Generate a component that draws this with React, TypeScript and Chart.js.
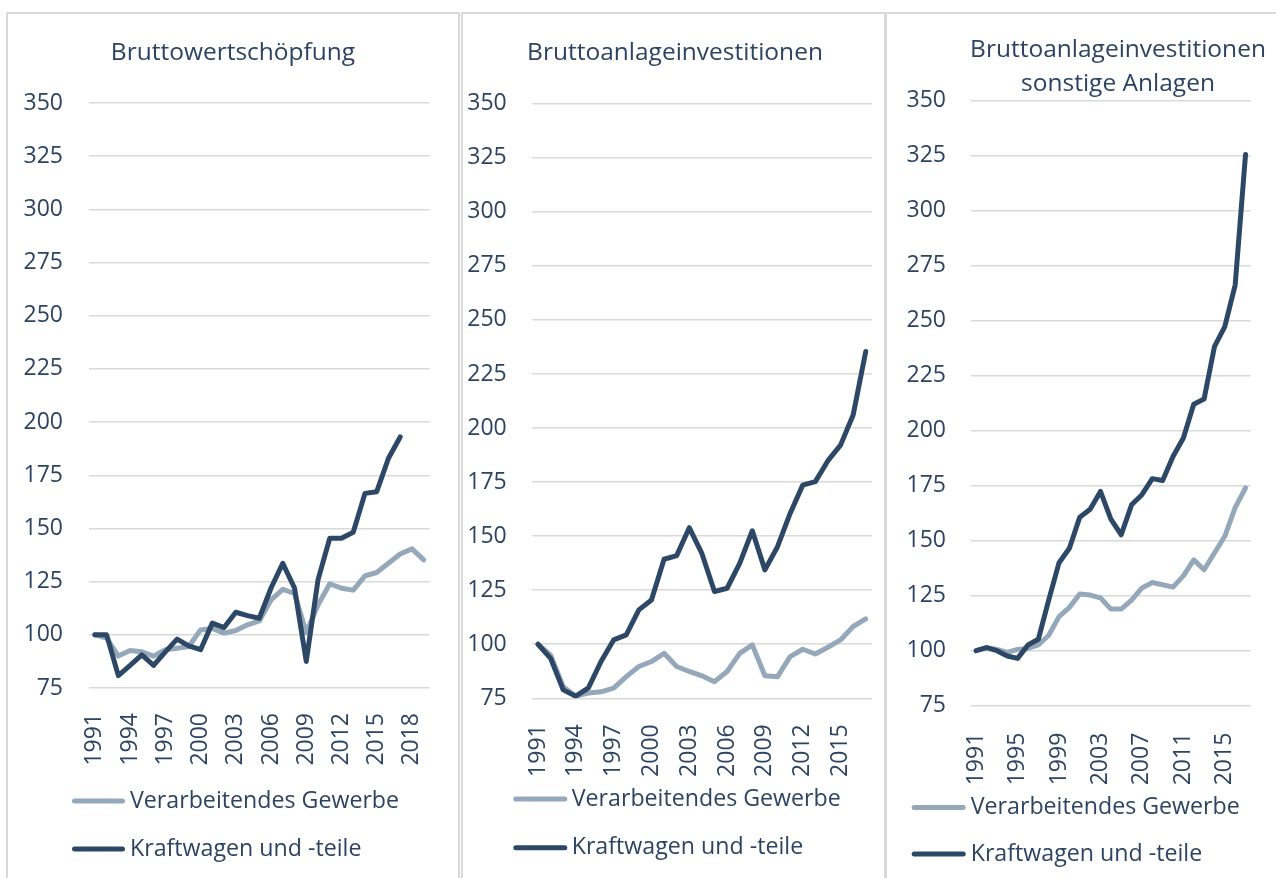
import React, { useEffect, useRef } from 'react';
import { Chart, registerables } from 'chart.js';

Chart.register(...registerables);

// ---------- data ----------
const seriesLabels = ['Verarbeitendes Gewerbe', 'Kraftwagen und -teile'];

const bwsYears = ['1991','1992','1993','1994','1995','1996','1997','1998','1999','2000','2001','2002','2003','2004','2005','2006','2007','2008','2009','2010','2011','2012','2013','2014','2015','2016','2017','2018','2019'];
const bwsVerarbeitend = [100, 98.5, 90, 92.6, 92, 90, 93, 93.7, 94.5, 102.3, 103, 100.8, 102, 104.7, 106.5, 116.4, 121.4, 119.5, 101, 114, 124, 121.9, 121, 127.7, 129.3, 133.6, 138, 140.4, 135.2];
const bwsKraftwagen = [100, 100, 80.8, 85.6, 90.6, 85.6, 92, 98, 94.8, 93, 105.5, 103.4, 110.6, 109, 107.8, 122, 133.6, 122, 87.5, 125.8, 145.4, 145.4, 148.2, 166.5, 167.3, 183, 193];

const baiYears = ['1991','1992','1993','1994','1995','1996','1997','1998','1999','2000','2001','2002','2003','2004','2005','2006','2007','2008','2009','2010','2011','2012','2013','2014','2015','2016','2017'];
const baiVerarbeitend = [100, 95, 80.4, 76, 77.4, 78, 79.7, 85, 89.7, 92, 95.8, 89.7, 87.4, 85.4, 82.7, 87.4, 95.8, 99.7, 85.4, 85, 94.3, 97.7, 95.5, 98.6, 102, 108.2, 111.7];
const baiKraftwagen = [100, 93.5, 78.9, 76, 79.8, 92, 102, 104.3, 115.9, 120.5, 139.3, 141, 153.9, 142, 124.4, 125.9, 137.4, 152.5, 134.4, 145.1, 160.5, 173.6, 175.2, 184.9, 192.1, 206, 235.4];

const bsaYears = ['1991','1992','1993','1994','1995','1996','1997','1998','1999','2000','2001','2002','2003','2004','2005','2006','2007','2008','2009','2010','2011','2012','2013','2014','2015','2016','2017'];
const bsaVerarbeitend = [100, 101.4, 100.6, 99.2, 100.6, 101, 102.6, 107, 115.5, 119.7, 125.8, 125.3, 124, 118.9, 118.9, 123, 128.5, 131, 130, 128.9, 134, 141.3, 136.8, 144.4, 152, 165, 174];
const bsaKraftwagen = [100, 101.4, 100, 97.6, 96.5, 102.6, 105.2, 123, 140, 146.6, 160.7, 164.3, 172.4, 159.8, 152.7, 166.3, 170.9, 178.2, 177.4, 188.3, 196.7, 212, 214.4, 238.2, 247.3, 266.2, 325.5];

const yMin = 75;
const yMax = 350;
const yStep = 25;

// ---------- styles ----------
const FONT = '"Open Sans", "Noto Sans", sans-serif';
const TEXT = '#2C4461';
const DARK = '#2D4866';
const LIGHT = '#94A8BA';
const GRID = '#D9D9D9';
const TICK_SIZE = 23;
const TITLE_SIZE = 24.5;
const LEGEND_SIZE = 23.2;

const legendPlugin = {
  id: 'panelLegend',
  afterDraw(chart: any, _args: any, opts: any) {
    const ctx = chart.ctx;
    ctx.save();
    ctx.font = `${opts.fontSize}px ${FONT}`;
    ctx.textBaseline = 'middle';
    ctx.textAlign = 'left';
    chart.data.datasets.forEach((ds: any, i: number) => {
      const y = opts.y + i * opts.rowGap;
      ctx.beginPath();
      ctx.strokeStyle = ds.borderColor;
      ctx.lineWidth = ds.borderWidth;
      ctx.lineCap = 'round';
      ctx.moveTo(opts.x, y);
      ctx.lineTo(opts.x + opts.lineLen, y);
      ctx.stroke();
      ctx.fillStyle = TEXT;
      ctx.fillText(ds.label, opts.textX, y);
    });
    ctx.restore();
  },
};

type PanelCfg = {
  title: string | string[];
  years: string[];
  verarbeitend: number[];
  kraftwagen: number[];
  labelStep: number;
  left: number;
  top: number;
  w: number;
  h: number;
  yW: number;
  rW: number;
  xH: number;
  padBottom: number;
  titleLineHeight: number;
  titlePadTop: number;
  titlePadBottom: number;
  yPad: number;
  xPad: number;
  legend: { x: number; lineLen: number; textX: number; y: number; rowGap: number };
};

function Panel({ cfg }: { cfg: PanelCfg }) {
  const ref = useRef<HTMLCanvasElement>(null);
  useEffect(() => {
    const chart = new Chart(ref.current as HTMLCanvasElement, {
      type: 'line',
      data: {
        labels: cfg.years,
        datasets: [
          {
            label: seriesLabels[0],
            data: cfg.verarbeitend,
            borderColor: LIGHT,
            backgroundColor: LIGHT,
            borderWidth: 5,
            pointRadius: 0,
            tension: 0,
            borderJoinStyle: 'round',
            borderCapStyle: 'round',
            order: 1,
          },
          {
            label: seriesLabels[1],
            data: cfg.kraftwagen,
            borderColor: DARK,
            backgroundColor: DARK,
            borderWidth: 5,
            pointRadius: 0,
            tension: 0,
            borderJoinStyle: 'round',
            borderCapStyle: 'round',
            order: 0,
          },
        ],
      },
      options: {
        animation: false,
        responsive: false,
        devicePixelRatio: 1,
        layout: { padding: { left: 0, right: 0, top: 0, bottom: cfg.padBottom } },
        plugins: {
          legend: { display: false },
          tooltip: { enabled: false },
          title: {
            display: true,
            text: cfg.title,
            color: TEXT,
            font: { family: FONT, size: TITLE_SIZE, weight: 'normal', lineHeight: cfg.titleLineHeight },
            padding: { top: cfg.titlePadTop, bottom: cfg.titlePadBottom },
          },
          panelLegend: { ...cfg.legend, fontSize: LEGEND_SIZE },
        } as any,
        scales: {
          x: {
            type: 'category',
            offset: true,
            grid: { display: false },
            border: { display: false },
            ticks: {
              autoSkip: false,
              minRotation: 90,
              maxRotation: 90,
              padding: cfg.xPad,
              color: TEXT,
              font: { family: FONT, size: TICK_SIZE },
              callback: function (this: any, _v: any, i: number) {
                return i % cfg.labelStep === 0 ? cfg.years[i] : null;
              },
            },
            afterFit: (s: any) => { s.height = cfg.xH; },
          },
          y: {
            type: 'linear',
            min: yMin,
            max: yMax,
            ticks: { stepSize: yStep, padding: cfg.yPad, color: TEXT, font: { family: FONT, size: TICK_SIZE } },
            grid: { color: GRID, lineWidth: 1.5, drawTicks: false },
            border: { display: false },
            afterFit: (s: any) => { s.width = cfg.yW; },
          },
          yRight: {
            type: 'linear',
            position: 'right',
            display: true,
            grid: { display: false, drawTicks: false },
            border: { display: false },
            ticks: { display: false },
            afterFit: (s: any) => { s.width = cfg.rW; },
          },
        },
      } as any,
      plugins: [legendPlugin],
    });
    return () => chart.destroy();
  }, []);
  return (
    <canvas
      ref={ref}
      width={cfg.w}
      height={cfg.h}
      style={{ position: 'absolute', left: cfg.left, top: cfg.top, width: cfg.w, height: cfg.h, display: 'block' }}
    />
  );
}

const panels: PanelCfg[] = [
  {
    title: 'Bruttowertschöpfung',
    years: bwsYears,
    verarbeitend: bwsVerarbeitend,
    kraftwagen: bwsKraftwagen,
    labelStep: 3,
    left: 8, top: 14, w: 450, h: 864,
    yW: 81, rW: 28, xH: 80, padBottom: 110,
    titleLineHeight: 1.2, titlePadTop: 24.0, titlePadBottom: 35.6,
    yPad: 26, xPad: 17,
    legend: { x: 66.5, lineLen: 48, textX: 122, y: 787, rowGap: 48 },
  },
  {
    title: 'Bruttoanlageinvestitionen',
    years: baiYears,
    verarbeitend: baiVerarbeitend,
    kraftwagen: baiKraftwagen,
    labelStep: 3,
    left: 463, top: 14, w: 424, h: 864,
    yW: 68.7, rW: 9.3, xH: 80, padBottom: 99.7,
    titleLineHeight: 1.2, titlePadTop: 24.5, titlePadBottom: 35.8,
    yPad: 25, xPad: 18,
    legend: { x: 52.8, lineLen: 49, textX: 108.7, y: 785, rowGap: 48.7 },
  },
  {
    title: ['Bruttoanlageinvestitionen', 'sonstige Anlagen'],
    years: bsaYears,
    verarbeitend: bsaVerarbeitend,
    kraftwagen: bsaKraftwagen,
    labelStep: 4,
    left: 887, top: 14, w: 462, h: 864,
    yW: 84, rW: 98.3, xH: 80, padBottom: 92.3,
    titleLineHeight: 1.371, titlePadTop: 19.2, titlePadBottom: 0.3,
    yPad: 25, xPad: 19,
    legend: { x: 27.2, lineLen: 49, textX: 83.7, y: 793.5, rowGap: 46.6 },
  },
];

const borders = [
  { left: 6, width: 454 },
  { left: 461, width: 425 },
  { left: 885, width: 500 },
];

export default function App() {
  return (
    <div style={{ position: 'fixed', left: 0, top: 0, width: '100vw', height: '100vh', overflow: 'hidden', background: '#fff' }}>
      {borders.map((b, i) => (
        <div
          key={'b' + i}
          style={{
            position: 'absolute',
            left: b.left,
            top: 12,
            width: b.width,
            height: 900,
            boxSizing: 'border-box',
            border: '2px solid ' + GRID,
          }}
        />
      ))}
      {panels.map((p, i) => (
        <Panel key={i} cfg={p} />
      ))}
    </div>
  );
}
